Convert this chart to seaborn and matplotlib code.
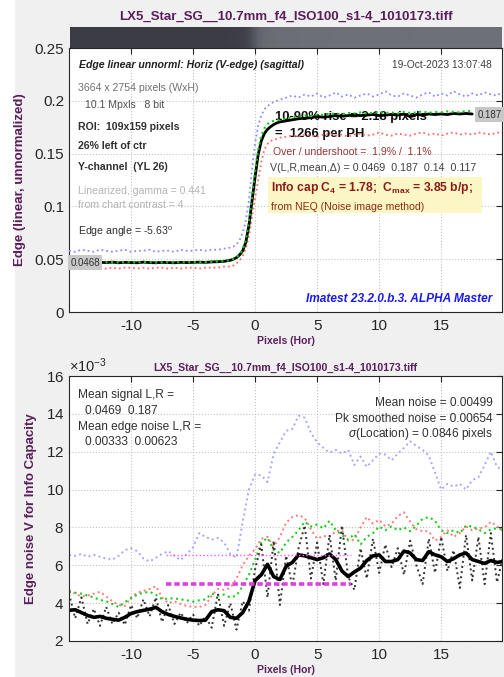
import numpy as np
import pandas as pd
import matplotlib
matplotlib.use('Agg')
import matplotlib.pyplot as plt
import seaborn as sns
from matplotlib.colors import LinearSegmentedColormap
from matplotlib.ticker import FuncFormatter, ScalarFormatter

nan = np.nan
file_title = 'LX5_Star_SG__10.7mm_f4_ISO100_s1-4_1010173.tiff'

# ---- top plot: edge profiles (linear, unnormalized) ----
x_top = np.concatenate([np.arange(-15, -2, 0.5), np.arange(-2, 2, 0.25), np.arange(2, 20.01, 0.5)])

edge_black = ([nan] * 5 +
              [0.0470, 0.0468, 0.0472, 0.0466, 0.0470, 0.0468, 0.0466, 0.0472, 0.0468, 0.0466, 0.0470,
               0.0468, 0.0466, 0.0470, 0.0468, 0.0470, 0.0472, 0.0470, 0.0474, 0.0476, 0.0480] +
              [0.0490, 0.0500, 0.0515, 0.0540, 0.0580, 0.0660, 0.0820, 0.1050, 0.1280, 0.1490, 0.1620,
               0.1690, 0.1730, 0.1755, 0.1775, 0.1790] +
              [0.1800, 0.1810, 0.1820, 0.1830, 0.1835, 0.1840, 0.1850, 0.1845, 0.1850, 0.1860, 0.1855,
               0.1860, 0.1865, 0.1860, 0.1865, 0.1870, 0.1860, 0.1865, 0.1870, 0.1865, 0.1875, 0.1850,
               0.1870, 0.1865, 0.1875, 0.1870, 0.1875, 0.1870, 0.1880, 0.1875, 0.1880, 0.1875] +
              [nan] * 5)

edge_green = ([nan] * 5 +
              [0.0472, 0.0470, 0.0474, 0.0468, 0.0472, 0.0470, 0.0468, 0.0474, 0.0470, 0.0468, 0.0472,
               0.0470, 0.0468, 0.0472, 0.0470, 0.0472, 0.0474, 0.0472, 0.0476, 0.0478, 0.0482] +
              [0.0492, 0.0502, 0.0518, 0.0545, 0.0590, 0.0680, 0.0850, 0.1090, 0.1330, 0.1540, 0.1670,
               0.1740, 0.1780, 0.1800, 0.1810, 0.1815] +
              [0.1820, 0.1830, 0.1845, 0.1850, 0.1860, 0.1855, 0.1870, 0.1865, 0.1875, 0.1880, 0.1870,
               0.1885, 0.1880, 0.1890, 0.1880, 0.1885, 0.1895, 0.1885, 0.1890, 0.1880, 0.1895, 0.1885,
               0.1890, 0.1900, 0.1885, 0.1895, 0.1890, 0.1900, 0.1895, 0.1890, 0.1905, 0.1900] +
              [nan] * 5)

edge_blue = ([0.058, 0.057, 0.059, 0.058, 0.057, 0.059, 0.058, 0.057, 0.058, 0.059, 0.057, 0.058, 0.058,
              0.059, 0.057, 0.058, 0.058, 0.057, 0.059, 0.058, 0.058, 0.059, 0.058, 0.059, 0.059, 0.060] +
             [0.061, 0.062, 0.064, 0.068, 0.075, 0.087, 0.105, 0.135, 0.160, 0.177, 0.186, 0.192, 0.195,
              0.197, 0.199, 0.200] +
             [0.201, 0.203, 0.205, 0.203, 0.206, 0.204, 0.207, 0.203, 0.205, 0.208, 0.204, 0.206, 0.203,
              0.205, 0.207, 0.204, 0.206, 0.209, 0.205, 0.204, 0.207, 0.205, 0.203, 0.206, 0.208, 0.204,
              0.207, 0.205, 0.209, 0.206, 0.204, 0.207, 0.205, 0.208, 0.206, 0.205, 0.209])

edge_red = ([nan] * 5 +
            [0.042, 0.041, 0.042, 0.041, 0.042, 0.042, 0.041, 0.042, 0.041, 0.042, 0.042, 0.041, 0.042,
             0.041, 0.042, 0.042, 0.041, 0.042, 0.042, 0.042, 0.043] +
            [0.043, 0.044, 0.046, 0.049, 0.053, 0.060, 0.072, 0.090, 0.108, 0.125, 0.142, 0.154, 0.159,
             0.162, 0.163, 0.164] +
            [0.165, 0.166, 0.167, 0.166, 0.168, 0.167, 0.166, 0.168, 0.169, 0.167, 0.168, 0.166, 0.168,
             0.169, 0.167, 0.168, 0.170, 0.168, 0.167, 0.169, 0.168, 0.167, 0.169, 0.170, 0.168, 0.169,
             0.167, 0.169, 0.170, 0.168, 0.169, 0.168, 0.170, 0.169, 0.168, 0.170, 0.169])

level_left, level_right = 0.0468, 0.187

# ---- bottom plot: edge noise (x 1e-3) ----
x_bot = np.arange(-15, 20.01, 0.5)

noise_blue = [6.55, 6.5, 6.6, 6.45, 6.55, 6.45, 6.35, 6.3, 6.5, 6.8, 6.9, 6.75, 6.35, 6.2, 6.4, 6.6, 6.75,
              6.5, 6.27, 6.6, 6.95, 7.7, 7.5, 7.35, 7.45, 7.2, 6.6, 6.4, 8.3, 10.0, 10.8, 10.75, 10.4, 11.9,
              12.5, 13.1, 13.2, 13.9, 13.8, 13.0, 12.5, 12.2, 11.95, 12.1, 11.9, 12.1, 11.3, 11.75, 11.2,
              11.55, 11.9, 11.85, 11.55, 11.9, 12.2, 12.55, 12.3, 12.1, 11.8, 10.9, 10.0, 10.3, 10.15, 10.3,
              10.0, 10.5, 10.65, 11.3, 12.0, 11.2, 11.0]
noise_red = [4.7, 4.5, 4.35, 4.4, 4.5, 4.6, 4.35, 4.1, 3.9, 3.85, 4.3, 4.55, 4.65, 4.75, 4.9, 4.3, 4.0,
             4.1, 3.95, 3.85, 3.8, 3.8, 3.9, 4.4, 4.75, 4.7, 4.8, 5.3, 6.0, 6.5, 6.85, 7.4, 7.5, 7.0, 7.5,
             8.25, 8.55, 8.65, 8.5, 7.9, 7.4, 7.55, 7.5, 7.8, 7.85, 7.3, 7.35, 8.0, 8.55, 8.2, 8.4, 8.05,
             8.2, 8.6, 8.8, 8.3, 7.9, 7.8, 7.8, 7.3, 7.5, 7.85, 7.5, 7.7, 8.05, 7.85, 7.95, 8.0, 8.3, 8.05, 7.8]
noise_green = [4.6, 4.55, 4.5, 4.4, 4.3, 4.17, 4.1, 3.95, 3.8, 4.05, 4.25, 4.45, 4.55, 4.6, 4.45, 4.2,
               4.25, 4.25, 4.2, 4.15, 4.08, 4.15, 4.2, 4.5, 4.4, 4.45, 4.3, 4.4, 4.9, 5.5, 6.3, 7.2, 7.45,
               6.8, 6.65, 7.2, 7.5, 7.85, 8.3, 8.05, 8.15, 7.95, 8.35, 7.85, 7.6, 7.35, 7.65, 7.1, 7.5, 7.7,
               8.05, 7.85, 8.05, 7.85, 8.0, 7.8, 8.1, 8.45, 8.55, 8.35, 7.85, 7.7, 7.85, 7.7, 8.1, 8.05, 7.9,
               7.7, 7.9, 7.95, 7.9]
noise_raw = [4.5, 3.2, 4.3, 2.9, 3.7, 2.8, 3.8, 2.9, 3.5, 2.85, 3.9, 3.2, 4.2, 3.3, 4.3, 3.0, 3.9, 2.9,
             3.5, 2.95, 3.4, 2.8, 3.3, 2.7, 4.5, 2.8, 4.0, 2.6, 4.1, 3.6, 5.8, 7.1, 4.3, 7.3, 3.9, 6.5, 4.9,
             6.9, 8.1, 5.3, 7.2, 5.0, 7.6, 5.2, 8.1, 5.4, 4.7, 6.9, 5.3, 7.4, 5.6, 7.1, 5.9, 6.9, 5.5, 7.3,
             6.0, 5.0, 7.4, 5.6, 7.5, 5.7, 6.8, 4.8, 7.6, 5.2, 7.5, 5.0, 7.7, 5.1, 6.5]
noise_smooth = [3.62, 3.65, 3.5, 3.35, 3.25, 3.3, 3.2, 3.15, 3.1, 3.25, 3.45, 3.55, 3.62, 3.68, 3.78, 3.55,
                3.4, 3.3, 3.22, 3.15, 3.1, 3.08, 3.1, 3.55, 3.65, 3.6, 3.25, 3.2, 3.5, 4.1, 5.2, 5.5, 6.05,
                5.4, 5.25, 5.95, 6.15, 6.55, 6.5, 6.4, 6.3, 6.4, 6.6, 6.3, 5.7, 5.4, 5.65, 5.85, 6.25, 6.5,
                6.55, 6.2, 6.2, 6.3, 6.75, 6.65, 6.3, 6.25, 6.72, 6.55, 6.45, 6.2, 6.35, 6.55, 6.65, 6.3, 6.2,
                6.1, 6.25, 6.15, 6.2]
mean_noise, pk_noise = 4.99, 6.54
noise_span = [-7.2, 7.7]

purple = '#5a1e5a'
sns.set_style('white')
plt.rcParams['font.family'] = ['Liberation Sans', 'DejaVu Sans']
plt.rcParams['axes.unicode_minus'] = False
plt.rcParams['mathtext.fontset'] = 'custom'
plt.rcParams['mathtext.rm'] = 'Liberation Sans'
plt.rcParams['mathtext.it'] = 'Liberation Sans:italic'
plt.rcParams['mathtext.bf'] = 'Liberation Sans:bold'

fig = plt.figure(figsize=(5.04, 6.77), dpi=100, facecolor='#f0f0f0')
fig.patches.append(plt.Rectangle((0, 0), 14 / 504, 1, transform=fig.transFigure, color='white', zorder=-1))

fig.text(285.5 / 504, 1 - 17 / 677, file_title, ha='center', va='center', fontsize=9.5,
         fontweight='bold', color=purple)


def style_axes(ax):
    ax.set_facecolor('white')
    ax.set_xlim(-15, 19.9)
    ax.set_xticks([-10, -5, 0, 5, 10, 15])
    ax.grid(True, linestyle=':', color='#c4c4c4', linewidth=0.8)
    ax.set_axisbelow(True)
    ax.tick_params(direction='in', length=4, width=0.8, top=True, right=True, labelsize=11,
                   colors='#262626')
    ax.tick_params(axis='x', pad=5)
    for s in ax.spines.values():
        s.set_color('#262626')
        s.set_linewidth(0.8)
    ax.set_xlabel('Pixels (Hor)', fontsize=7.5, fontweight='bold', color=purple, labelpad=2)


# gray edge image strip
ax_strip = fig.add_axes([70 / 504, 1 - 48 / 677, 432 / 504, 21 / 677])
strip_row = pd.Series(edge_black).ffill().bfill().to_numpy()
strip_cmap = LinearSegmentedColormap.from_list('strip', ['#3c3d44', '#6d7177'])
ax_strip.pcolormesh(x_top, [0, 1], np.vstack([strip_row, strip_row]), shading='gouraud',
                    cmap=strip_cmap, vmin=level_left, vmax=level_right)
ax_strip.set_xlim(-15, 19.9)
ax_strip.axis('off')

# ---- top axes ----
ax1 = fig.add_axes([69 / 504, 1 - 312 / 677, 433 / 504, 264 / 677])
sns.lineplot(x=x_top, y=edge_blue, ax=ax1, color='#8c8cff', linestyle=':', linewidth=1.3, zorder=3)
sns.lineplot(x=x_top, y=edge_red, ax=ax1, color='#ff6a6a', linestyle=':', linewidth=1.3, zorder=3)
sns.lineplot(x=x_top, y=edge_black, ax=ax1, color='black', linewidth=2.0, zorder=4)
sns.lineplot(x=x_top, y=edge_green, ax=ax1, color='#11cc11', linestyle=':', linewidth=1.5, zorder=5)
style_axes(ax1)
ax1.set_ylim(0, 0.25)
ax1.set_yticks([0, 0.05, 0.1, 0.15, 0.2, 0.25])
ax1.yaxis.set_major_formatter(FuncFormatter(lambda v, p: '%g' % v))
ax1.set_ylabel('Edge (linear, unnormalized)', fontsize=9.5, fontweight='bold', color=purple)
ax1.yaxis.set_label_coords(-0.099, 0.5)

ax1.text(-14.9, level_left, '%.4f' % level_left, ha='left', va='center', fontsize=7, color='#303030',
         bbox=dict(boxstyle='square,pad=0.25', fc='#c8c8c8', ec='none'), zorder=6)
ax1.text(19.85, level_right, '%.3f' % level_right, ha='right', va='center', fontsize=7, color='#303030',
         bbox=dict(boxstyle='square,pad=0.25', fc='#c8c8c8', ec='none'), zorder=6)

t = ax1.transAxes
small = 7.6
ax1.text(0.023, 0.936, 'Edge linear unnorml: Horiz (V-edge) (sagittal)', transform=t, fontsize=small,
         fontweight='bold', style='italic', va='center', color='#202020')
ax1.text(0.977, 0.936, '19-Oct-2023 13:07:48', transform=t, fontsize=7.4, ha='right', va='center',
         color='#404040')
ax1.text(0.021, 0.848, '3664 x 2754 pixels (WxH)', transform=t, fontsize=small, va='center', color='#707070')
ax1.text(0.037, 0.784, '10.1 Mpxls   8 bit', transform=t, fontsize=small, va='center', color='#505050')
ax1.text(0.021, 0.701, 'ROI:  109x159 pixels', transform=t, fontsize=small, fontweight='bold', va='center',
         color='#303030')
ax1.text(0.021, 0.629, '26% left of ctr', transform=t, fontsize=small, fontweight='bold', va='center',
         color='#303030')
ax1.text(0.021, 0.549, 'Y-channel  (YL 26)', transform=t, fontsize=small, fontweight='bold', va='center',
         color='#303030')
ax1.text(0.021, 0.458, 'Linearized, gamma = 0.441', transform=t, fontsize=small, va='center', color='#b4b4b4')
ax1.text(0.021, 0.405, 'from chart contrast = 4', transform=t, fontsize=small, va='center', color='#b4b4b4')
ax1.text(0.021, 0.303, r'Edge angle = -5.63$^{\rm o}$', transform=t, fontsize=small, va='center',
         color='#303030')

ax1.text(0.476, 0.739, '10-90% rise = 2.18 pixels', transform=t, fontsize=9.4, fontweight='bold',
         va='center', color='#101010', zorder=1)
ax1.text(0.476, 0.674, '=  1266 per PH', transform=t, fontsize=9.4, fontweight='bold', va='center',
         color='#101010', zorder=1)
ax1.text(0.471, 0.606, 'Over / undershoot =  1.9% /  1.1%', transform=t, fontsize=small, va='center',
         color='#9b3535')
ax1.text(0.464, 0.545, 'V(L,R,mean,Δ) = 0.0469  0.187  0.14  0.117', transform=t, fontsize=7.7,
         va='center', color='#404040')
ax1.add_patch(plt.Rectangle((0.460, 0.375), 0.494, 0.136, transform=t, fc='#fcf6c4', ec='none', zorder=2))
ax1.text(0.467, 0.470, r'Info cap C$_{\bf 4}$ = 1.78;  C$_{\bf max}$ = 3.85 b/p;', transform=t,
         fontsize=8.7, fontweight='bold', va='center', color='#8b1a1a', zorder=6)
ax1.text(0.467, 0.398, 'from NEQ (Noise image method)', transform=t, fontsize=small, va='center',
         color='#8b2a10', zorder=6)
ax1.text(0.977, 0.049, 'Imatest 23.2.0.b.3. ALPHA Master', transform=t, fontsize=8.6, fontweight='bold',
         style='italic', ha='right', va='center', color='#1a1aee')

# ---- bottom axes ----
ax2 = fig.add_axes([69 / 504, 1 - 641 / 677, 433 / 504, 265 / 677])
scale = 1e-3
sns.lineplot(x=x_bot, y=np.array(noise_blue) * scale, ax=ax2, color='#a6a6ff', linestyle=':', linewidth=1.4)
sns.lineplot(x=x_bot, y=np.array(noise_red) * scale, ax=ax2, color='#ff7a7a', linestyle=':', linewidth=1.4)
sns.lineplot(x=x_bot, y=np.array(noise_green) * scale, ax=ax2, color='#22cc22', linestyle=':', linewidth=1.5)
sns.lineplot(x=x_bot, y=np.array(noise_raw) * scale, ax=ax2, color='#333333', linestyle=':', linewidth=1.4)
sns.lineplot(x=x_bot, y=np.array(noise_smooth) * scale, ax=ax2, color='black', linewidth=2.6)
sns.lineplot(x=noise_span, y=[pk_noise * scale] * 2, ax=ax2, color='#ff55ff', linestyle=':', linewidth=1.0)
sns.lineplot(x=noise_span, y=[mean_noise * scale] * 2, ax=ax2, color='#e040e0', linewidth=2.6,
             dashes=(1.5, 0.8))
style_axes(ax2)
ax2.set_ylim(0.002, 0.016)
ax2.set_yticks(np.arange(2, 17, 2) * scale)
fmt = ScalarFormatter(useMathText=True)
fmt.set_powerlimits((-3, -3))
ax2.yaxis.set_major_formatter(fmt)
ax2.yaxis.get_offset_text().set_fontsize(10.5)
ax2.set_title(file_title, fontsize=7.6, fontweight='bold', color=purple, pad=4)
ax2.set_ylabel('Edge noise V for Info Capacity', fontsize=9.5, fontweight='bold', color=purple)
ax2.yaxis.set_label_coords(-0.073, 0.5)

t2 = ax2.transAxes
bs = 8.6
ax2.text(0.021, 0.928, 'Mean signal L,R =', transform=t2, fontsize=bs, va='center', color='#303030')
ax2.text(0.037, 0.868, '0.0469  0.187', transform=t2, fontsize=bs, va='center', color='#303030')
ax2.text(0.021, 0.808, 'Mean edge noise L,R =', transform=t2, fontsize=bs, va='center', color='#303030')
ax2.text(0.037, 0.751, '0.00333  0.00623', transform=t2, fontsize=bs, va='center', color='#303030')
ax2.text(0.979, 0.898, 'Mean noise = 0.00499', transform=t2, fontsize=bs, ha='right', va='center',
         color='#303030')
ax2.text(0.979, 0.838, 'Pk smoothed noise = 0.00654', transform=t2, fontsize=bs, ha='right', va='center',
         color='#303030')
ax2.text(0.979, 0.781, r'$\sigma$(Location) = 0.0846 pixels', transform=t2, fontsize=bs, ha='right',
         va='center', color='#303030')

fig.savefig('out.png', dpi=100, facecolor=fig.get_facecolor())
